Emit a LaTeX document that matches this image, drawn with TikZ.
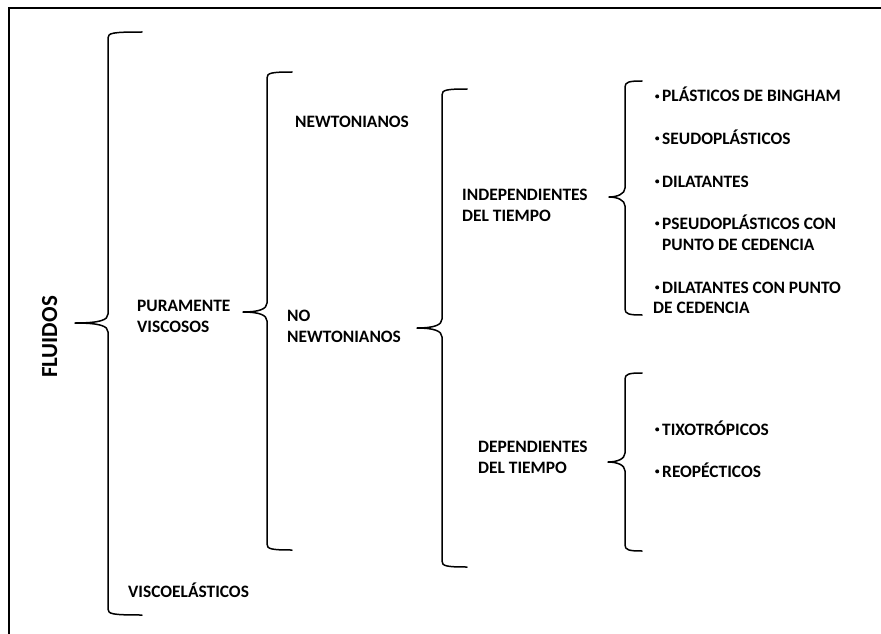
\documentclass[tikz,border=0pt]{standalone}
\usepackage{fontspec}
\setmainfont{Carlito}
\newcommand\curlybr[6]{% #1 spine x, #2 top y, #3 cusp y, #4 bottom y, #5 tip x, #6 arm end x
  \draw[bracestyle] (#6,#2) .. controls (#1+4,#2) and (#1,#2+1) .. (#1,#2+6)
    -- (#1,#3-9) .. controls (#1,#3-3) and (#1-8,#3) .. (#5,#3)
    .. controls (#1-8,#3) and (#1,#3+3) .. (#1,#3+9)
    -- (#1,#4-6) .. controls (#1,#4-1) and (#1+4,#4) .. (#6,#4);}
% small list bullet at mid cap height
\newcommand\itembul{\hspace{2pt}\raisebox{3.6pt}{\tikz\fill (0,0) circle (2pt);}\hspace{3pt}}
\begin{document}
\begin{tikzpicture}[x=1pt,y=-1pt,
  bracestyle/.style={line width=1.5pt,line join=round,line cap=round},
  lbl/.style={anchor=base west,inner sep=0pt,font=\bfseries\fontsize{17.4}{20}\selectfont},
  title/.style={anchor=base,inner sep=0pt,rotate=90,font=\bfseries\fontsize{23}{26}\selectfont}]
\useasboundingbox (0,0) rectangle (881,634);
% frame (top and left edges only)
\draw[line width=2.8pt] (9,640) -- (9,8) -- (890,8);

% braces
\curlybr{108}{32}{323}{615}{75}{142}
\curlybr{267}{72}{312}{550}{243}{292}
\curlybr{442}{89}{328}{567}{417}{467}
\curlybr{625}{81}{197}{315}{609}{642}
\curlybr{625}{373}{462}{551}{608}{642}

% labels
\node[title] (fluidos) at (57,337) {FLUIDOS};

\node[lbl] (pur1) at (137,311) {PURAMENTE};
\node[lbl] (pur2) at (137,332) {VISCOSOS};
\node[lbl] (visco) at (128,597) {VISCOELÁSTICOS};

\node[lbl] (newt) at (295,127) {NEWTONIANOS};
\node[lbl] (non1) at (287,321) {NO};
\node[lbl] (non2) at (287,342) {NEWTONIANOS};

\node[lbl] (ind1) at (462,200) {INDEPENDIENTES};
\node[lbl] (ind2) at (462,221) {DEL TIEMPO};
\node[lbl] (dep1) at (478,452) {DEPENDIENTES};
\node[lbl] (dep2) at (478,473) {DEL TIEMPO};

\node[lbl] (bing) at (653,102) {\itembul PLÁSTICOS DE BINGHAM};
\node[lbl] (seud) at (653,144) {\itembul SEUDOPLÁSTICOS};
\node[lbl] (dila) at (653,187) {\itembul DILATANTES};
\node[lbl] (pse1) at (653,229) {\itembul PSEUDOPLÁSTICOS CON};
\node[lbl] (pse2) at (662,250) {PUNTO DE CEDENCIA};
\node[lbl] (dcp1) at (653,293) {\itembul DILATANTES CON PUNTO};
\node[lbl] (dcp2) at (653,313) {DE CEDENCIA};

\node[lbl] (tixo) at (653,435) {\itembul TIXOTRÓPICOS};
\node[lbl] (reop) at (653,477) {\itembul REOPÉCTICOS};
\end{tikzpicture}
\end{document}
